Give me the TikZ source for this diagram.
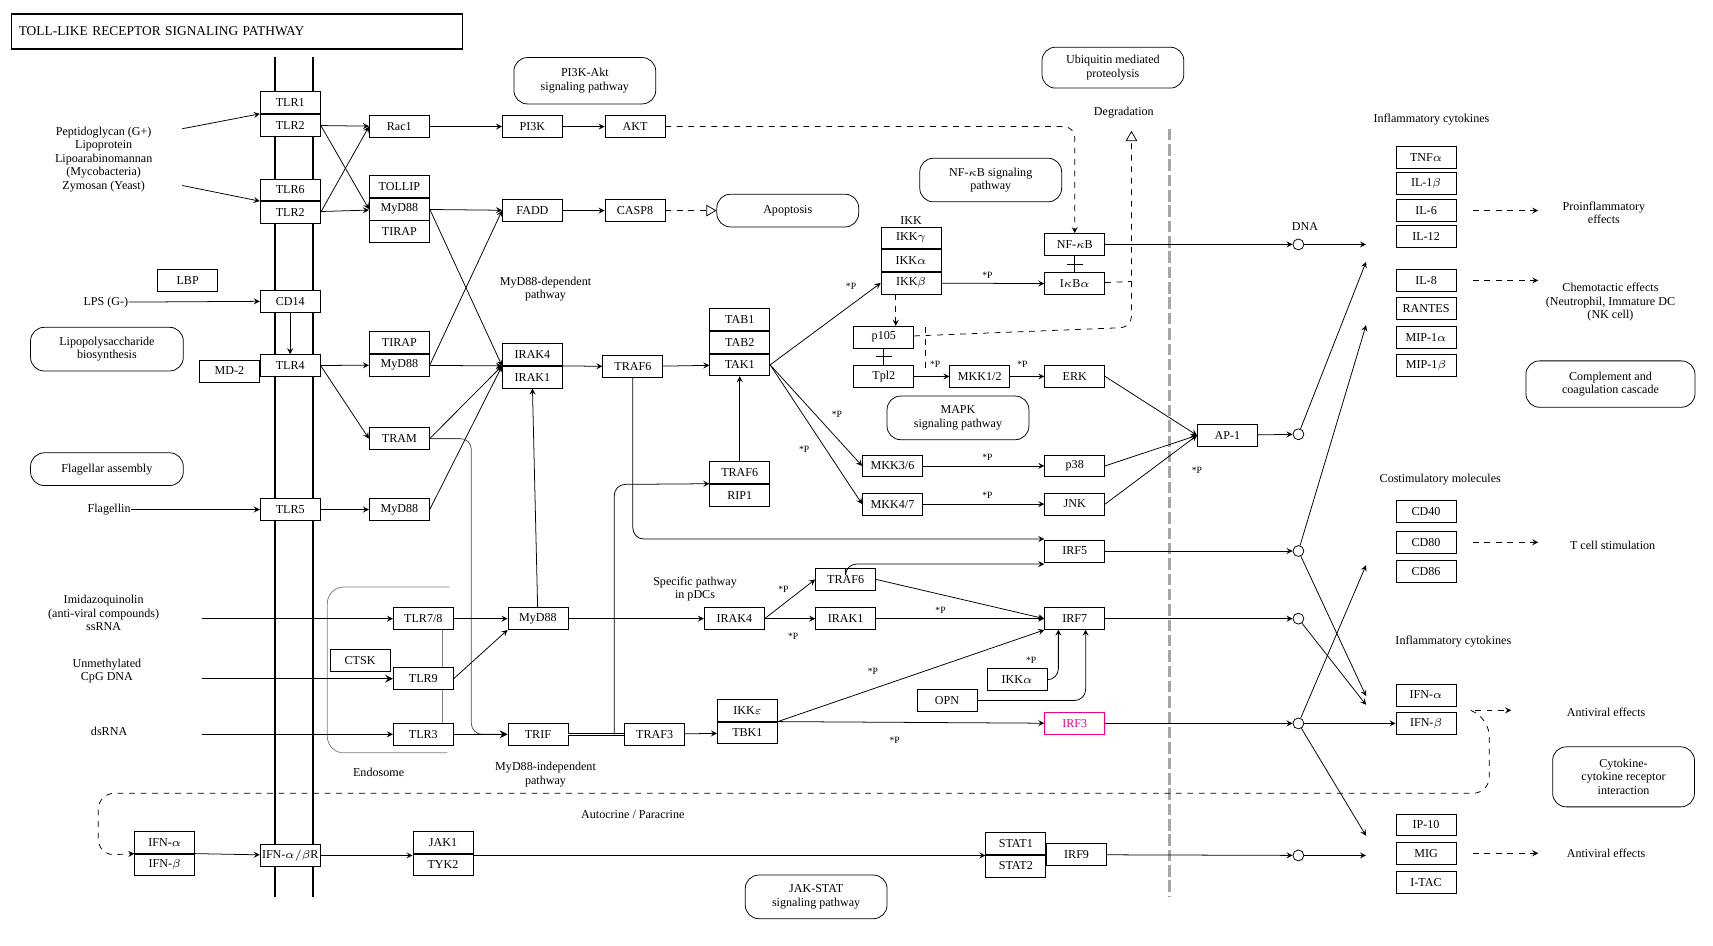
\documentclass[tikz,border=0pt]{standalone}
\usepackage{fontspec}
\setmainfont{Liberation Serif}
\usepackage{tikz}
\usetikzlibrary{shapes.geometric, arrows, calc, positioning}
\tikzstyle{gene} = [rectangle, draw=black, minimum width=11mm, minimum height=4mm, inner sep=0pt, text centered, fill=white]
\tikzstyle{map} = [rectangle, rounded corners=2.5mm, draw=black, align=center, inner sep=2pt]
\tikzstyle{label} = [align=center, inner sep=0pt]
\tikzstyle{dot} = [circle, draw=black, fill=white, minimum size=2mm, inner sep=0pt]
\tikzstyle{phos} = [inner sep=0pt, font=\fontsize{5}{5}\selectfont]
\tikzstyle{arrow} = [->,>=stealth]
\tikzstyle{dasharrow} = [->,>=stealth, dashed]

\begin{document}
\begin{tikzpicture}[x=0.2mm, y=-0.2mm, font=\fontsize{6.3}{7}\selectfont, node distance=0pt]
	\useasboundingbox (0,0) rectangle (1570,867);
	% title and membrane
	\node (Title) [draw, line width=0.8pt, minimum width=82.6mm, minimum height=6.4mm, anchor=north west, text width=80mm, font=\fontsize{7}{8}\selectfont] at (10,12) {TOLL-LIKE RECEPTOR SIGNALING PATHWAY};
	\draw [line width=0.7pt] (252,52) -- (252,822);
	\draw [line width=0.7pt] (287,52) -- (287,822);
	\draw [line width=1.6pt, gray!70, dash pattern=on 6pt off 2pt] (1072,118) -- (1072,822);

	% receptors
	\node (TLRone) [gene] at (266,94) {TLR1};
	\node (TLRtwo) [gene, below = of TLRone] {TLR2};
	\node (TLRsix) [gene] at (266,174) {TLR6};
	\node (TLRtwoB) [gene, below = of TLRsix] {TLR2};
	\node (CDfourteen) [gene] at (266,276) {CD14};
	\node (TLRfour) [gene] at (266,335) {TLR4};
	\node (MDtwo) [gene, left = of TLRfour.north west, anchor=north east, yshift=-1mm] {MD-2};
	\node (LBP) [gene] at (172,257) {LBP};
	\node (TLRfive) [gene] at (266,467) {TLR5};
	\node (IFNR) [gene] at (266,784) {IFN-$\alpha/\beta$R};

	% ligands and maps on the left
	\node (PGN) [label] at (95,146) {Peptidoglycan (G+)\\Lipoprotein\\Lipoarabinomannan\\(Mycobacteria)\\Zymosan (Yeast)};
	\coordinate (PGNa) at (167,118);
	\coordinate (PGNb) at (167,170);
	\node (LPS) [label] at (97,277) {LPS (G-)};
	\node (LPSmap) [map, minimum width=28mm, minimum height=8mm] at (98,320) {Lipopolysaccharide\\biosynthesis};
	\node (Flamap) [map, minimum width=28mm, minimum height=6mm] at (98,430) {Flagellar assembly};
	\node (Flagellin) [label] at (100,467) {Flagellin};
	\node (Imida) [label] at (95,562) {Imidazoquinolin\\(anti-viral compounds)\\ssRNA};
	\node (CpG) [label] at (98,615) {Unmethylated\\CpG DNA};
	\node (dsRNA) [label] at (100,670) {dsRNA};
	\coordinate (Imidaend) at (185,567);
	\coordinate (CpGend) at (185,622);
	\coordinate (dsRNAend) at (185,673);

	% adaptors
	\node (Racone) [gene] at (366,116) {Rac1};
	\node (TOLLIP) [gene] at (366,171) {TOLLIP};
	\node (MyDone) [gene, below = of TOLLIP] {MyD88};
	\node (TIRAPone) [gene, below = of MyDone] {TIRAP};
	\node (TIRAPtwo) [gene] at (366,314) {TIRAP};
	\node (MyDtwo) [gene, below = of TIRAPtwo] {MyD88};
	\node (TRAM) [gene] at (366,402) {TRAM};
	\node (MyDthree) [gene] at (366,467) {MyD88};
	\node (PIthreeK) [gene] at (488,116) {PI3K};
	\node (AKT) [gene] at (582,116) {AKT};
	\node (PImap) [map, minimum width=26mm, minimum height=8.5mm] at (536,74) {PI3K-Akt\\signaling pathway};
	\node (FADD) [gene] at (488,193) {FADD};
	\node (CASPeight) [gene] at (582,193) {CASP8};
	\node (Apoptosis) [map, minimum width=26mm, minimum height=6mm] at (722,193) {Apoptosis};
	\node (IRAKfour) [gene] at (488,325) {IRAK4};
	\node (IRAKone) [gene, below = of IRAKfour] {IRAK1};
	\node (MyDdep) [label] at (500,265) {MyD88-dependent\\pathway};
	\node (TRAFsix) [gene] at (580,336) {TRAF6};
	\node (TABone) [gene] at (678,293) {TAB1};
	\node (TABtwo) [gene, below = of TABone] {TAB2};
	\node (TAKone) [gene, below = of TABtwo] {TAK1};
	\node (TRAFsixB) [gene] at (678,433) {TRAF6};
	\node (RIPone) [gene, below = of TRAFsixB] {RIP1};

	% NF-kB and MAPK branch
	\node (IKKg) [gene] at (835,218) {IKK$\gamma$};
	\node (IKKa) [gene, below = of IKKg] {IKK$\alpha$};
	\node (IKKb) [gene, below = of IKKa] {IKK$\beta$};
	\node (IKK) [label, above = 1pt of IKKg] {IKK};
	\node (NFmap) [map, minimum width=26mm, minimum height=8mm] at (908,165) {NF-$\kappa$B signaling\\pathway};
	\node (NFkB) [gene] at (985,224) {NF-$\kappa$B};
	\node (IkBa) [gene] at (985,260) {I$\kappa$B$\alpha$};
	\node (Ubmap) [map, minimum width=26mm, minimum height=7.5mm] at (1020,62) {Ubiquitin mediated\\proteolysis};
	\node (Degradation) [label] at (1030,103) {Degradation};
	\node (pone) [gene] at (810,309) {p105};
	\node (Tpltwo) [gene] at (810,345) {Tpl2};
	\node (MKKonetwo) [gene] at (898,345) {MKK1/2};
	\node (ERK) [gene] at (985,345) {ERK};
	\node (MAPKmap) [map, minimum width=26mm, minimum height=8mm] at (878,383) {MAPK\\signaling pathway};
	\node (MKKthreesix) [gene] at (818,427) {MKK3/6};
	\node (pthirtyeight) [gene] at (985,427) {p38};
	\node (MKKfourseven) [gene] at (818,462) {MKK4/7};
	\node (JNK) [gene] at (985,462) {JNK};
	\node (APone) [gene] at (1125,399) {AP-1};
	\node (IRFfive) [gene] at (985,505) {IRF5};

	% endosome branch
	\draw [gray, rounded corners=3mm] (412,538) -- (300,538) -- (300,690) -- (410,690);
	\node (Endosome) [label] at (347,708) {Endosome};
	\draw [gray] (405,567) -- (405,673);
	\node (TLRseveneight) [gene] at (388,567) {TLR7/8};
	\node (TLRnine) [gene] at (388,622) {TLR9};
	\node (CTSK) [gene] at (330,605) {CTSK};
	\node (TLRthree) [gene] at (388,673) {TLR3};
	\node (MyDfour) [gene] at (493,567) {MyD88};
	\node (TRIF) [gene] at (493,673) {TRIF};
	\node (MyDindep) [label] at (500,710) {MyD88-independent\\pathway};
	\node (TRAFthree) [gene] at (600,673) {TRAF3};
	\node (IKKe) [gene] at (685,651) {IKK$\varepsilon$};
	\node (TBKone) [gene, below = of IKKe] {TBK1};
	\node (Specific) [label] at (637,540) {Specific pathway\\in pDCs};
	\node (IRAKfourB) [gene] at (673,567) {IRAK4};
	\node (IRAKoneB) [gene] at (775,567) {IRAK1};
	\node (TRAFsixC) [gene] at (775,531) {TRAF6};
	\node (IRFseven) [gene] at (985,567) {IRF7};
	\node (IKKaB) [gene] at (932,623) {IKK$\alpha$};
	\node (OPN) [gene] at (868,642) {OPN};
	\node (IRFthree) [gene, draw=magenta, text=magenta] at (985,663) {IRF3};

	% JAK-STAT branch
	\node (IFNa) [gene] at (151,772) {IFN-$\alpha$};
	\node (IFNb) [gene, below = of IFNa] {IFN-$\beta$};
	\node (JAKone) [gene] at (406,772) {JAK1};
	\node (TYKtwo) [gene, below = of JAKone] {TYK2};
	\node (STATone) [gene] at (931,773) {STAT1};
	\node (STATtwo) [gene, below = of STATone] {STAT2};
	\node (IRFnine) [gene, right = of STATone.south east, anchor=west] {IRF9};
	\node (JAKmap) [map, minimum width=26mm, minimum height=8mm] at (748,822) {JAK-STAT\\signaling pathway};
	\node (Autocrine) [label] at (580,747) {Autocrine / Paracrine};

	% nucleus: DNA dots
	\node (DNA) [label] at (1196,208) {DNA};
	\node (DotNF) [dot] at (1190,224) {};
	\node (DotAP) [dot] at (1190,398) {};
	\node (DotFive) [dot] at (1190,505) {};
	\node (DotSeven) [dot] at (1190,567) {};
	\node (DotThree) [dot] at (1190,663) {};
	\node (DotNine) [dot] at (1190,784) {};

	% products
	\node (InfA) [label] at (1312,110) {Inflammatory cytokines};
	\node (TNF) [gene] at (1307,144) {TNF$\alpha$};
	\node (ILone) [gene] at (1307,168) {IL-1$\beta$};
	\node (ILsix) [gene] at (1307,193) {IL-6};
	\node (ILtwelve) [gene] at (1307,217) {IL-12};
	\node (ILeight) [gene] at (1307,257) {IL-8};
	\node (RANTES) [gene] at (1307,283) {RANTES};
	\node (MIPa) [gene] at (1307,309) {MIP-1$\alpha$};
	\node (MIPb) [gene] at (1307,335) {MIP-1$\beta$};
	\node (Costim) [label] at (1320,440) {Costimulatory molecules};
	\node (CDforty) [gene] at (1307,469) {CD40};
	\node (CDeighty) [gene] at (1307,497) {CD80};
	\node (CDeightysix) [gene] at (1307,524) {CD86};
	\node (InfB) [label] at (1332,588) {Inflammatory cytokines};
	\node (IFNaB) [gene] at (1307,637) {IFN-$\alpha$};
	\node (IFNbB) [gene] at (1307,663) {IFN-$\beta$};
	\node (IPten) [gene] at (1307,756) {IP-10};
	\node (MIG) [gene] at (1307,782) {MIG};
	\node (ITAC) [gene] at (1307,809) {I-TAC};
	\node (Proinf) [label] at (1470,195) {Proinflammatory\\effects};
	\node (Chemo) [label] at (1476,277) {Chemotactic effects\\(Neutrophil, Immature DC\\(NK cell)};
	\node (Compmap) [map, minimum width=31mm, minimum height=8.5mm] at (1476,352) {Complement and\\coagulation cascade};
	\node (Tcell) [label] at (1478,500) {T cell stimulation};
	\node (AntiA) [label] at (1472,653) {Antiviral effects};
	\node (Cytmap) [map, minimum width=26mm, minimum height=11mm] at (1488,712) {Cytokine-\\cytokine receptor\\interaction};
	\node (AntiB) [label] at (1472,782) {Antiviral effects};

	% ligand arrows
	\draw [arrow] (PGNa) -- (TLRone.south west);
	\draw [arrow] (PGNb) -- (TLRsix.south west);
	\draw [arrow] (LPS) -- (CDfourteen);
	\draw [arrow] (CDfourteen) -- (TLRfour);
	\draw [arrow] (Flagellin) -- (TLRfive);
	\draw [arrow] (Imidaend) -- (TLRseveneight);
	\draw [arrow, thick] (CpGend) -- (TLRnine);
	\draw [arrow] (dsRNAend) -- (TLRthree);
	\draw [arrow] (IFNa.south east) -- (IFNR);

	% MyD88-dependent
	\draw [arrow] (TLRtwo) -- (Racone);
	\draw [arrow] (TLRtwo.east) -- (MyDone.west);
	\draw [arrow] (TLRtwoB.east) -- (Racone.west);
	\draw [arrow] (TLRtwoB) -- (MyDone);
	\draw [arrow] (Racone) -- (PIthreeK);
	\draw [arrow] (PIthreeK) -- (AKT);
	\draw [dasharrow, rounded corners=2mm] (AKT) -- (985,116) -- (NFkB);
	\draw [arrow] (MyDone) -- (FADD);
	\draw [arrow] (MyDtwo.east) -- (FADD.west);
	\draw [arrow] (FADD) -- (CASPeight);
	\draw [dashed, -open triangle 60] (CASPeight) -- (Apoptosis);
	\draw [arrow] (MyDone.east) -- (IRAKfour.south west);
	\draw [arrow] (TLRfour) -- (MyDtwo);
	\draw [arrow] (TLRfour.east) -- (TRAM.west);
	\draw [arrow] (MyDtwo) -- (IRAKfour.south west);
	\draw [arrow] (TRAM.east) -- (IRAKfour.south west);
	\draw [arrow] (MyDthree.east) -- (IRAKfour.south west);
	\draw [arrow] (TLRfive) -- (MyDthree);
	\draw [arrow, rounded corners=2mm, gray!60!black] (TRAM) -- (432,402) -- (432,673) -- (TRIF);
	\draw [arrow] (IRAKfour.south east) -- (TRAFsix);
	\draw [arrow] (TRAFsix) -- (TAKone);
	\draw [arrow] (TRAFsixB) -- (TAKone);
	\draw [arrow, rounded corners=2mm] (TRAFsix) -- (580,494) -- (IRFfive.west |- 0,494);
	\draw [arrow, rounded corners=2mm] (TRAFsixC) -- (TRAFsixC.north |- 0,517) -- (IRFfive.west |- 0,517);
	\draw [arrow] (TAKone.east) -- (IKKb.west);
	\node [phos] at (780,262) {*P};
	\draw [arrow] (TAKone.east) -- (MKKthreesix.west);
	\node [phos] at (767,380) {*P};
	\draw [arrow] (TAKone.east) -- (MKKfourseven.west);
	\node [phos] at (737,412) {*P};
	\draw [arrow] (IKKb) -- (IkBa);
	\node [phos] at (905,252) {*P};
	\draw (NFkB) -- (IkBa);
	\draw ($(NFkB)!0.5!(IkBa)$) +(-1.5mm,0) -- +(1.5mm,0);
	\draw [dasharrow] (IKKb.south -| 821,0) -- (pone.north -| 821,0);
	\draw [dashed, -open triangle 60, rounded corners=2mm] (pone) -- (1037,300) -- (1037,120);
	\draw [dashed] (IkBa) -- (1037,258);
	\draw (pone) -- (Tpltwo);
	\draw ($(pone)!0.5!(Tpltwo)$) +(-1.5mm,0) -- +(1.5mm,0);
	\draw [dashed] (848,300) -- (848,340);
	\draw [arrow] (Tpltwo) -- (MKKonetwo);
	\node [phos] at (857,334) {*P};
	\draw [arrow] (MKKonetwo) -- (ERK);
	\node [phos] at (937,334) {*P};
	\draw [arrow] (MKKthreesix) -- (pthirtyeight);
	\node [phos] at (905,419) {*P};
	\draw [arrow] (MKKfourseven) -- (JNK);
	\node [phos] at (905,454) {*P};
	\draw [arrow] (ERK.east) -- (APone.west);
	\draw [arrow] (pthirtyeight.east) -- (APone.west);
	\draw [arrow] (JNK.east) -- (APone.west);
	\node [phos] at (1097,431) {*P};

	% endosome and MyD88-independent
	\draw [arrow] (TLRseveneight) -- (MyDfour);
	\draw [arrow] (TLRnine.east) -- (MyDfour.south west);
	\draw [arrow] (MyDfour) -- (IRAKone.south);
	\draw [arrow] (MyDfour) -- (IRAKfourB);
	\draw [arrow] (IRAKfourB.east) -- (TRAFsixC.west);
	\node [phos] at (718,540) {*P};
	\draw [arrow] (IRAKfourB) -- (IRAKoneB);
	\node [phos] at (727,583) {*P};
	\draw [arrow] (IRAKoneB) -- (IRFseven);
	\node [phos] at (862,559) {*P};
	\draw [arrow] (TRAFsixC.east) -- (IRFseven.west);
	\draw [arrow, thick] (TLRthree) -- (TRIF);
	\draw [double] (TRIF) -- (TRAFthree);
	\draw [arrow, rounded corners=2mm] (563,673) -- (563,444) -- (RIPone.north west);
	\draw [arrow] (TRAFthree) -- (TBKone);
	\draw [arrow] (TBKone.north east) -- (IRFseven.south west);
	\node [phos] at (800,615) {*P};
	\draw [arrow] (TBKone.north east) -- (IRFthree);
	\node [phos] at (820,679) {*P};
	\draw [arrow, rounded corners=2mm] (IKKaB) -- (970,623) -- (970,577);
	\node [phos] at (945,605) {*P};
	\draw [arrow, rounded corners=2mm] (OPN) -- (995,642) -- (995,577);

	% JAK-STAT
	\draw [arrow] (IFNR) -- (IFNR -| JAKone.west);
	\draw [arrow] (IFNR -| JAKone.east) -- (IFNR -| STATone.west);
	\draw [dasharrow, rounded corners=3mm] (1348,651) -- (1365,660) -- (1365,727) -- (90,727) -- (90,784) -- (IFNa.south west);

	% transcription
	\draw [arrow] (NFkB) -- (DotNF);
	\draw [arrow] (APone) -- (DotAP);
	\draw [arrow] (IRFfive) -- (DotFive);
	\draw [arrow] (IRFseven) -- (DotSeven);
	\draw [arrow] (IRFthree) -- (DotThree);
	\draw [arrow] (IRFnine) -- (DotNine);
	\draw [arrow] (DotNF) -- (1252,224);
	\draw [arrow] (DotAP) -- (1252,240);
	\draw [arrow] (DotFive) -- (1252,298);
	\draw [arrow] (DotFive) -- (1252,638);
	\draw [arrow] (DotSeven) -- (1252,646);
	\draw [arrow] (DotThree) -- (1252,518);
	\draw [arrow] (DotThree) -- (IFNbB);
	\draw [arrow] (DotThree) -- (1252,766);
	\draw [arrow] (DotNine) -- (1252,784);
	\draw [dasharrow] (ILsix.east) ++(3mm,0) -- ++(12mm,0);
	\draw [dasharrow] (ILeight.east) ++(3mm,0) -- ++(12mm,0);
	\draw [dasharrow] (CDeighty.east) ++(3mm,0) -- ++(12mm,0);
	\draw [dasharrow] (1352,651) -- (1385,651);
	\draw [dasharrow] (MIG.east) ++(3mm,0) -- ++(12mm,0);
\end{tikzpicture}
\end{document}
